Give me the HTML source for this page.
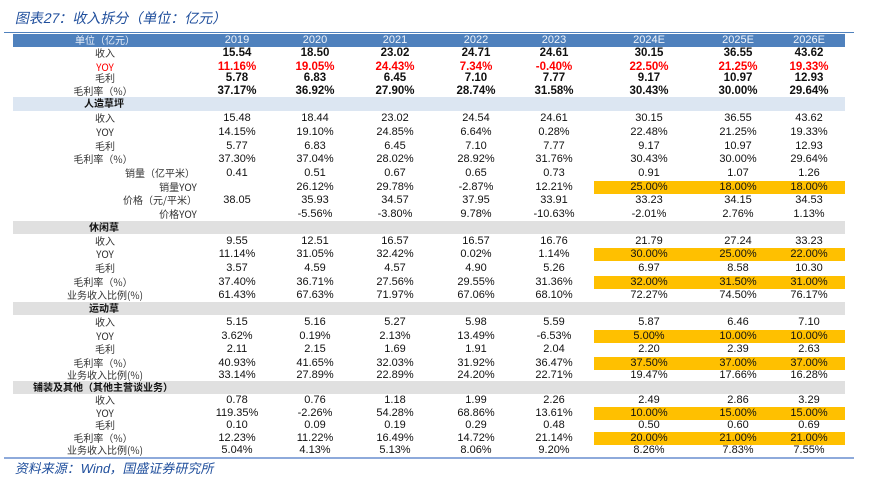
<!DOCTYPE html>
<html><head><meta charset="utf-8">
<style>
body{margin:0;background:#fff;width:883px;height:487px;overflow:hidden;position:relative;font-family:"Liberation Sans","Noto Sans CJK SC",sans-serif;}
.t{position:absolute;white-space:nowrap;font-size:11px;line-height:13px;height:13px;color:#111;}
.c{transform:translateX(-50%);}
.lab{font-family:"Noto Sans CJK SC",sans-serif;font-size:10px;color:#333;}
.b{font-weight:bold;font-size:11.5px;}
.red{color:#ff0000;}
.band{position:absolute;left:13px;width:832px;}
.y{position:absolute;left:594px;width:251px;height:13px;background:#ffc000;}
.it{transform:skewX(-12deg);transform-origin:left bottom;}
</style></head><body>
<div class="t it" style="left:14px;top:9px;height:18px;font-size:14px;line-height:18px;color:#1f4e9c;">图表27：收入拆分（单位：亿元）</div>
<div style="position:absolute;left:4px;top:32px;width:850px;height:1px;background:#4f81bd;"></div>
<div style="position:absolute;left:13px;top:34px;width:832px;height:13px;background:#4f81bd;"></div>
<div style="position:absolute;left:4px;top:457px;width:850px;height:2px;background:#8eaadb;"></div>
<div class="t it" style="left:14px;top:461px;height:16px;font-size:13px;line-height:16px;color:#1f4e9c;">资料来源：Wind，国盛证券研究所</div>
<div id="root"></div>
<script>
const years=["2019","2020","2021","2022","2023","2024E","2025E","2026E"];
const colX=[237,315,395,476,554,649,738,809];
const rows=[
["收入",105,53,["15.54","18.50","23.02","24.71","24.61","30.15","36.55","43.62"],"b",0],
["YOY",105,67,["11.16%","19.05%","24.43%","7.34%","-0.40%","22.50%","21.25%","19.33%"],"b red",0],
["毛利",105,78,["5.78","6.83","6.45","7.10","7.77","9.17","10.97","12.93"],"b",0],
["毛利率（%）",103,91,["37.17%","36.92%","27.90%","28.74%","31.58%","30.43%","30.00%","29.64%"],"b",0],
["收入",105,118,["15.48","18.44","23.02","24.54","24.61","30.15","36.55","43.62"],"",0],
["YOY",105,132,["14.15%","19.10%","24.85%","6.64%","0.28%","22.48%","21.25%","19.33%"],"",0],
["毛利",105,146,["5.77","6.83","6.45","7.10","7.77","9.17","10.97","12.93"],"",0],
["毛利率（%）",103,159,["37.30%","37.04%","28.02%","28.92%","31.76%","30.43%","30.00%","29.64%"],"",0],
["销量（亿平米）",160,173,["0.41","0.51","0.67","0.65","0.73","0.91","1.07","1.26"],"",0],
["销量YOY",178,187,["","26.12%","29.78%","-2.87%","12.21%","25.00%","18.00%","18.00%"],"",1],
["价格（元/平米）",160,200,["38.05","35.93","34.57","37.95","33.91","33.23","34.15","34.53"],"",0],
["价格YOY",178,214,["","-5.56%","-3.80%","9.78%","-10.63%","-2.01%","2.76%","1.13%"],"",0],
["收入",105,241,["9.55","12.51","16.57","16.57","16.76","21.79","27.24","33.23"],"",0],
["YOY",105,254,["11.14%","31.05%","32.42%","0.02%","1.14%","30.00%","25.00%","22.00%"],"",1],
["毛利",105,268,["3.57","4.59","4.57","4.90","5.26","6.97","8.58","10.30"],"",0],
["毛利率（%）",103,282,["37.40%","36.71%","27.56%","29.55%","31.36%","32.00%","31.50%","31.00%"],"",1],
["业务收入比例(%)",105,295,["61.43%","67.63%","71.97%","67.06%","68.10%","72.27%","74.50%","76.17%"],"",0],
["收入",105,322,["5.15","5.16","5.27","5.98","5.59","5.87","6.46","7.10"],"",0],
["YOY",105,336,["3.62%","0.19%","2.13%","13.49%","-6.53%","5.00%","10.00%","10.00%"],"",1],
["毛利",105,349,["2.11","2.15","1.69","1.91","2.04","2.20","2.39","2.63"],"",0],
["毛利率（%）",103,363,["40.93%","41.65%","32.03%","31.92%","36.47%","37.50%","37.00%","37.00%"],"",1],
["业务收入比例(%)",105,375,["33.14%","27.89%","22.89%","24.20%","22.71%","19.47%","17.66%","16.28%"],"",0],
["收入",105,400,["0.78","0.76","1.18","1.99","2.26","2.49","2.86","3.29"],"",0],
["YOY",105,413,["119.35%","-2.26%","54.28%","68.86%","13.61%","10.00%","15.00%","15.00%"],"",1],
["毛利",105,425,["0.10","0.09","0.19","0.29","0.48","0.50","0.60","0.69"],"",0],
["毛利率（%）",103,438,["12.23%","11.22%","16.49%","14.72%","21.14%","20.00%","21.00%","21.00%"],"",1],
["业务收入比例(%)",105,450,["5.04%","4.13%","5.13%","8.06%","9.20%","8.26%","7.83%","7.55%"],"",0]
];
const bands=[["人造草坪",104,97,14,"#dce6f2"],["休闲草",104,221,13,"#e0e0e0"],["运动草",104,302,13,"#e0e0e0"],["铺装及其他（其他主营谈业务）",103,381,13,"#e0e0e0"]];
const root=document.getElementById('root');
function mk(cls,x,y,txt){const d=document.createElement('div');d.className=cls;d.style.left=x+'px';d.style.top=y+'px';d.textContent=txt;root.appendChild(d);return d;}
bands.forEach(b=>{
 const r=document.createElement('div');r.className='band';r.style.top=b[2]+'px';r.style.height=b[3]+'px';r.style.background=b[4];
 
 
 root.appendChild(r);
 const l=mk('t c lab',b[1],b[2]-1,b[0]);l.style.fontWeight='bold';l.style.color='#111';
 
 
});
const h=mk('t c lab',105,33,'单位（亿元）');h.style.color='#e8eef8';


years.forEach((yr,i)=>{const d=mk('t c',colX[i],34,yr);d.style.color='#eef3fa';
 
 });
rows.forEach(r=>{
 const top=r[2]-6;
 if(r[5]){const y=document.createElement('div');y.className='y';y.style.top=top+'px';
  
  
  root.appendChild(y);}
 const l=mk('t c lab'+(r[4].includes('red')?' red':''),r[1],top-1,r[0]);
 
 
 r[3].forEach((v,i)=>{const d=mk('t c '+r[4],colX[i],top,v);
  
  });
});
</script>
</body></html>
